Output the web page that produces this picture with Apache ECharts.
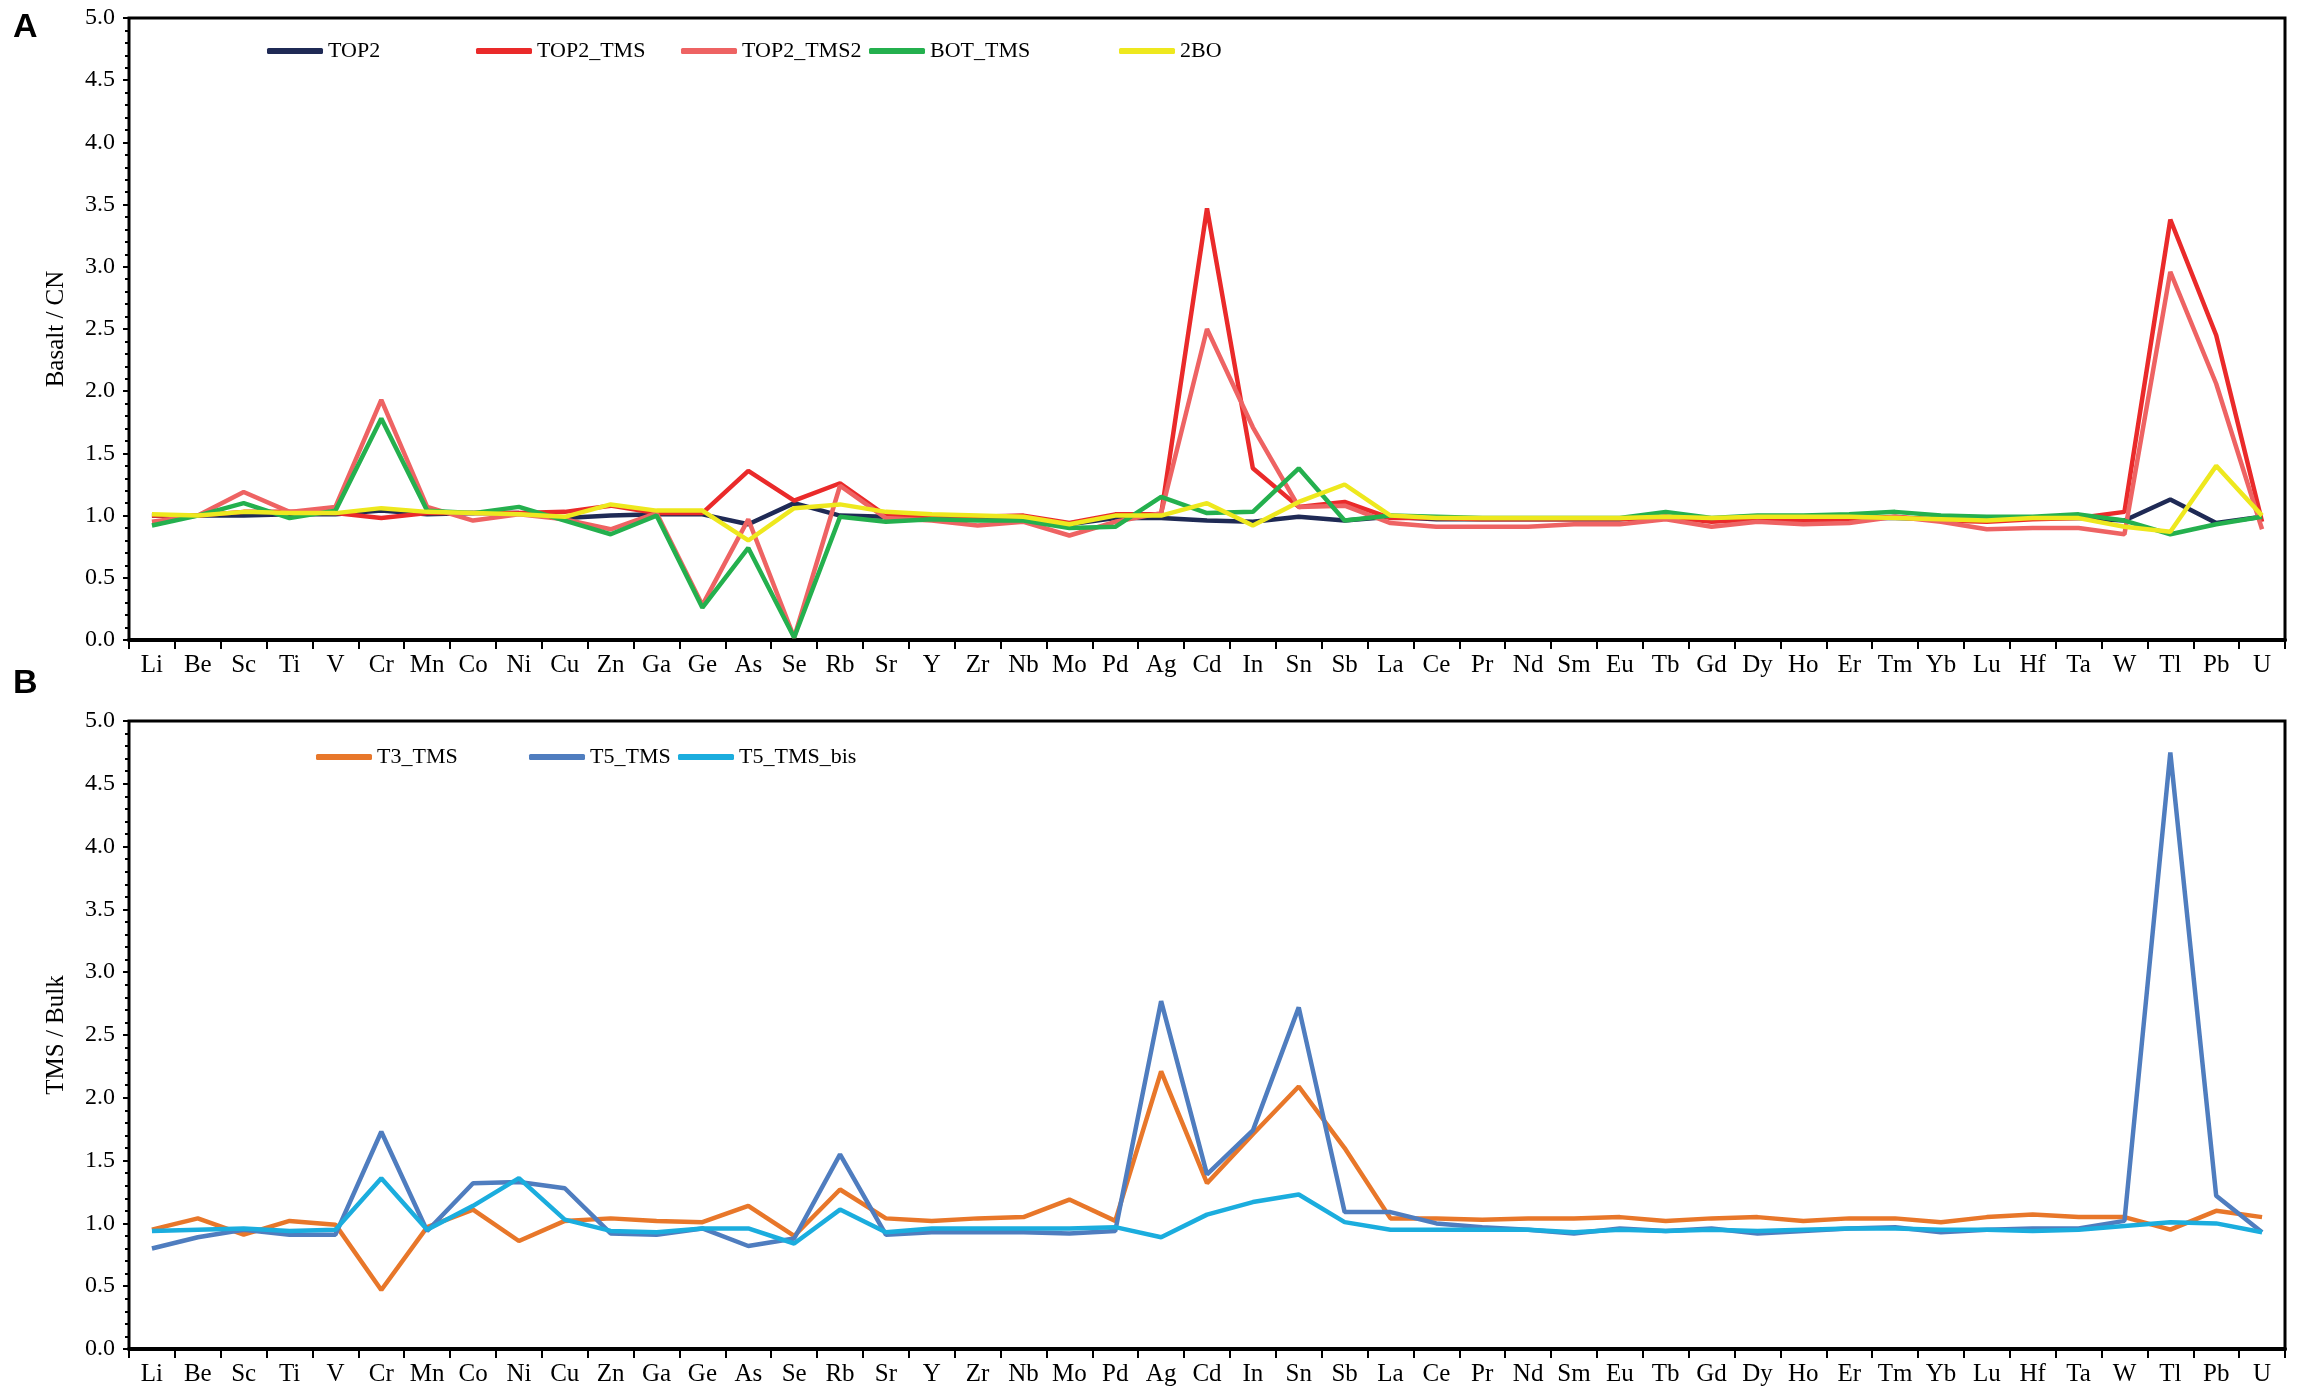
<!DOCTYPE html>
<html>
<head>
<meta charset="utf-8">
<script src="https://cdn.jsdelivr.net/npm/echarts@6/dist/echarts.min.js"></script>
<style>
  html, body { margin: 0; padding: 0; background: #fff; }
  #main { width: 2297px; height: 1398px; }
</style>
</head>
<body>
<div id="main"></div>
<script>
    // element order as on the x axis
    var elements = ['Li','Be','Sc','Ti','V','Cr','Mn','Co','Ni','Cu','Zn','Ga','Ge','As','Se','Rb','Sr','Y','Zr','Nb','Mo','Pd','Ag','Cd','In','Sn','Sb','La','Ce','Pr','Nd','Sm','Eu','Tb','Gd','Dy','Ho','Er','Tm','Yb','Lu','Hf','Ta','W','Tl','Pb','U'];
    var yTicks = [0, 0.5, 1, 1.5, 2, 2.5, 3, 3.5, 4, 4.5, 5];

    // panel A : Basalt / CN
    var top2 = [1.00,1.00,1.00,1.01,1.01,1.04,1.01,1.02,1.02,0.98,1.00,1.01,1.01,0.93,1.10,1.00,0.99,0.98,0.98,0.97,0.93,0.98,0.98,0.96,0.95,0.99,0.96,0.99,0.97,0.97,0.97,0.97,0.97,0.99,0.97,0.98,0.98,0.98,0.98,0.97,0.97,0.98,0.98,0.96,1.13,0.94,0.99];
    var top2Tms = [1.00,1.00,1.03,1.03,1.02,0.98,1.02,1.02,1.02,1.03,1.08,1.02,1.02,1.36,1.12,1.26,1.00,0.99,0.99,1.00,0.94,1.01,1.01,3.47,1.38,1.07,1.11,0.98,0.98,0.97,0.97,0.97,0.97,0.99,0.95,0.97,0.96,0.97,0.99,0.96,0.95,0.97,0.98,1.03,3.38,2.45,0.95];
    var top2Tms2 = [0.95,1.00,1.19,1.03,1.07,1.93,1.07,0.96,1.01,0.97,0.89,1.02,0.28,0.97,0.02,1.24,0.98,0.96,0.92,0.95,0.84,0.95,1.02,2.50,1.71,1.07,1.08,0.94,0.91,0.91,0.91,0.93,0.93,0.97,0.91,0.95,0.93,0.94,0.99,0.95,0.89,0.90,0.90,0.85,2.96,2.06,0.89];
    var botTms = [0.92,1.00,1.10,0.98,1.04,1.78,1.04,1.02,1.07,0.96,0.85,1.00,0.26,0.74,0.02,0.99,0.95,0.97,0.96,0.96,0.90,0.91,1.15,1.02,1.03,1.38,0.96,1.00,0.99,0.98,0.98,0.98,0.98,1.03,0.98,1.00,1.00,1.01,1.03,1.00,0.99,0.99,1.01,0.96,0.85,0.93,0.99];
    var bo2 = [1.01,1.00,1.03,1.02,1.02,1.06,1.03,1.02,1.01,0.99,1.09,1.04,1.04,0.80,1.06,1.09,1.03,1.01,1.00,0.99,0.93,1.00,1.00,1.10,0.92,1.11,1.25,1.00,0.98,0.98,0.98,0.98,0.98,0.99,0.98,0.99,0.99,0.99,0.98,0.97,0.96,0.98,0.98,0.91,0.87,1.40,1.00];

    // panel B : TMS / Bulk
    var t3Tms = [0.95,1.04,0.91,1.02,0.99,0.47,0.97,1.11,0.86,1.02,1.04,1.02,1.01,1.14,0.90,1.27,1.04,1.02,1.04,1.05,1.19,1.02,2.21,1.32,1.71,2.09,1.60,1.04,1.04,1.03,1.04,1.04,1.05,1.02,1.04,1.05,1.02,1.04,1.04,1.01,1.05,1.07,1.05,1.05,0.95,1.10,1.05];
    var t5Tms = [0.80,0.89,0.95,0.91,0.91,1.73,0.94,1.32,1.33,1.28,0.92,0.91,0.96,0.82,0.88,1.55,0.91,0.93,0.93,0.93,0.92,0.94,2.77,1.39,1.74,2.72,1.09,1.09,1.00,0.97,0.95,0.92,0.96,0.94,0.96,0.92,0.94,0.96,0.97,0.93,0.95,0.96,0.96,1.02,4.75,1.22,0.93];
    var t5TmsBis = [0.94,0.95,0.96,0.94,0.95,1.36,0.95,1.14,1.36,1.03,0.94,0.93,0.96,0.96,0.84,1.11,0.93,0.96,0.96,0.96,0.96,0.97,0.89,1.07,1.17,1.23,1.01,0.95,0.95,0.95,0.95,0.93,0.95,0.94,0.95,0.94,0.95,0.96,0.96,0.95,0.95,0.94,0.95,0.98,1.01,1.00,0.93];

    var serif = 'Liberation Serif';
    var myChart = echarts.init(document.getElementById('main'));

    function xAxis(idx) {
        return {
            type: 'category',
            gridIndex: idx,
            data: elements,
            boundaryGap: true,
            axisLine: { lineStyle: { color: '#000', width: 4 } },
            axisTick: { show: true, length: 9, lineStyle: { color: '#000', width: 2 } },
            axisLabel: { color: '#000', fontFamily: serif, fontSize: 25, margin: 13, interval: 0 },
            splitLine: { show: false }
        };
    }

    function yAxis(idx, name) {
        return {
            type: 'value',
            gridIndex: idx,
            min: yTicks[0],
            max: yTicks[yTicks.length - 1],
            interval: 0.5,
            name: name,
            nameLocation: 'middle',
            nameGap: 60,
            nameTextStyle: { color: '#000', fontFamily: serif, fontSize: 25 },
            axisLine: { show: true, lineStyle: { color: '#000', width: 2 } },
            axisTick: { show: true, length: 6, lineStyle: { color: '#000', width: 2 } },
            minorTick: { show: true, splitNumber: 5, length: 4, lineStyle: { color: '#000', width: 2 } },
            axisLabel: {
                color: '#000', fontFamily: serif, fontSize: 24, margin: 14,
                formatter: function (v) { return v.toFixed(1); }
            },
            splitLine: { show: false }
        };
    }

    function line(name, data, color, idx) {
        return {
            name: name,
            type: 'line',
            xAxisIndex: idx,
            yAxisIndex: idx,
            data: data,
            showSymbol: false,
            symbol: 'none',
            lineStyle: { color: color, width: 4.5 },
            itemStyle: { color: color },
            animation: false
        };
    }

    function legend(name, left, top) {
        return {
            data: [name],
            left: left,
            top: top,
            icon: 'roundRect',
            itemWidth: 56,
            itemHeight: 6,
            textStyle: { color: '#000', fontFamily: serif, fontSize: 22 },
            selectedMode: false
        };
    }

    option = {
        backgroundColor: '#fff',
        animation: false,
        title: [
            { text: 'A', left: 8, top: 6, textStyle: { fontFamily: 'Liberation Sans', fontWeight: 'bold', fontSize: 34, color: '#000' } },
            { text: 'B', left: 8, top: 662, textStyle: { fontFamily: 'Liberation Sans', fontWeight: 'bold', fontSize: 34, color: '#000' } }
        ],
        legend: [
            legend('TOP2', 262, 35),
            legend('TOP2_TMS', 471, 35),
            legend('TOP2_TMS2', 676, 35),
            legend('BOT_TMS', 864, 35),
            legend('2BO', 1114, 35),
            legend('T3_TMS', 311, 741),
            legend('T5_TMS', 524, 741),
            legend('T5_TMS_bis', 673, 741)
        ],
        grid: [
            { left: 129, right: 12, top: 18, height: 622, show: true, borderColor: '#000', borderWidth: 3, backgroundColor: 'transparent' },
            { left: 129, right: 12, top: 721, height: 628, show: true, borderColor: '#000', borderWidth: 3, backgroundColor: 'transparent' }
        ],
        xAxis: [xAxis(0), xAxis(1)],
        yAxis: [yAxis(0, 'Basalt / CN'), yAxis(1, 'TMS / Bulk')],
        series: [
            line('TOP2', top2, '#1f2a55', 0),
            line('TOP2_TMS', top2Tms, '#ea2a2a', 0),
            line('TOP2_TMS2', top2Tms2, '#ee6363', 0),
            line('BOT_TMS', botTms, '#24b04e', 0),
            line('2BO', bo2, '#eee81e', 0),
            line('T3_TMS', t3Tms, '#e8772a', 1),
            line('T5_TMS', t5Tms, '#4f7dbf', 1),
            line('T5_TMS_bis', t5TmsBis, '#1badde', 1)
        ]
    };

    myChart.setOption(option);
</script>
</body>
</html>
